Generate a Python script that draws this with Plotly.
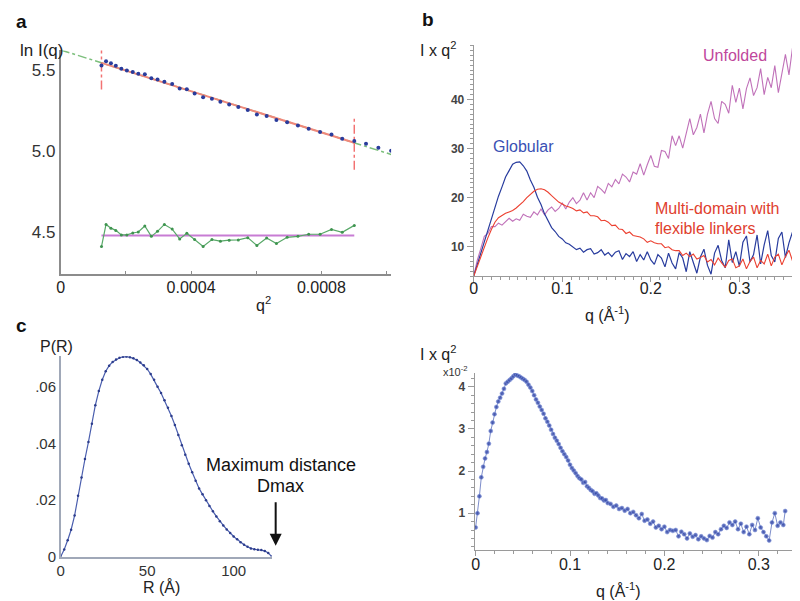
import plotly.graph_objects as go

W, H = 800, 601
FONT = "Liberation Sans, Arial, sans-serif"

# ---------------- a: Guinier plot ----------------
guinier_q2 = [0.000125, 0.000139, 0.000154, 0.000169, 0.000186, 0.000203, 0.000221,
              0.000238, 0.000258, 0.000278, 0.000297, 0.000318, 0.000342, 0.000365,
              0.000387, 0.000411, 0.000437, 0.000464, 0.000490, 0.000517, 0.000545,
              0.000574, 0.000602, 0.000632, 0.000662, 0.000695, 0.000728, 0.000761,
              0.000796, 0.000831, 0.000864, 0.000901, 0.000937, 0.000975, 0.001014]
guinier_ln_i = [5.531, 5.557, 5.545, 5.529, 5.510, 5.500, 5.490, 5.480, 5.476, 5.451,
                5.443, 5.429, 5.416, 5.388, 5.384, 5.357, 5.333, 5.324, 5.306, 5.288,
                5.273, 5.255, 5.227, 5.218, 5.192, 5.178, 5.159, 5.139, 5.118, 5.102,
                5.076, 5.063, 5.045, 5.020, 5.002]
# residual-like trace, same q2 points up to the fit limit
residual_ln_i = [4.408, 4.545, 4.522, 4.508, 4.480, 4.480, 4.492, 4.498, 4.535, 4.471,
                 4.502, 4.545, 4.516, 4.455, 4.490, 4.451, 4.408, 4.451, 4.441, 4.447,
                 4.449, 4.463, 4.414, 4.461, 4.427, 4.465, 4.471, 4.484, 4.484, 4.514,
                 4.496, 4.539]
residual_mean = 4.476
fit_q2 = [0.000125, 0.000901]
fit_ln_i = [5.547, 5.051]
extrap_q2 = [0.0, 0.001014]
extrap_ln_i = [5.627, 4.979]
cutoff_low_span = [5.382, 5.633]
cutoff_high_span = [4.884, 5.214]

# ---------------- b: Kratky plots ----------------
kratky_q_milli = [0, 4, 8, 12, 16, 20, 24, 28, 32, 36, 40, 44, 48, 52, 56, 60, 64, 68,
                  72, 76, 80, 84, 88, 92, 96, 100, 104, 108, 112, 116, 120, 124, 128,
                  132, 136, 140, 144, 148, 152, 156, 160, 164, 168, 172, 176, 180, 184,
                  188, 192, 196, 200, 204, 208, 212, 216, 220, 224, 228, 232, 236, 240,
                  244, 248, 252, 256, 260, 264, 268, 272, 276, 280, 284, 288, 292, 296,
                  300, 304, 308, 312, 316, 320, 324, 328, 332, 336, 340, 344, 348, 352,
                  356, 360, 364]
globular = [4.0, 6.3, 8.5, 11.1, 13.3, 15.9, 17.9, 20.3, 22.2, 24.2,
            25.5, 26.8, 27.2, 27.3, 26.5, 25.4, 23.6, 22.1, 20.1, 18.6,
            16.7, 15.4, 13.9, 13.1, 12.1, 11.6, 10.8, 10.5, 10.0, 9.4,
            9.7, 8.9, 9.4, 9.6, 8.5, 8.8, 9.4, 8.3, 8.8, 8.0,
            8.9, 9.2, 7.4, 8.6, 8.0, 9.0, 7.0, 8.4, 7.3, 9.0,
            7.3, 6.4, 8.4, 7.7, 5.9, 8.7, 6.7, 5.5, 8.8, 7.7,
            4.9, 9.0, 6.8, 4.6, 7.9, 9.5, 6.2, 4.4, 8.7, 10.3,
            7.2, 5.7, 11.4, 6.8, 9.0, 6.0, 10.9, 12.2, 6.9, 8.4,
            12.4, 6.5, 10.4, 13.3, 8.2, 6.9, 11.7, 13.0, 7.8, 10.8,
            13.0, 8.8]
multidomain = [4.0, 6.0, 8.1, 9.9, 11.8, 13.5, 15.0, 15.9, 16.4, 16.8,
               17.1, 17.4, 17.9, 18.5, 19.2, 20.0, 20.7, 21.3, 21.7, 21.8,
               21.6, 21.1, 20.4, 19.8, 19.1, 18.7, 18.3, 18.1, 17.8, 17.3,
               17.5, 16.9, 17.1, 16.3, 16.3, 16.1, 15.3, 15.4, 15.0, 14.3,
               14.4, 13.6, 13.5, 12.7, 13.0, 12.3, 12.1, 12.0, 11.6, 10.9,
               11.2, 10.8, 10.6, 10.6, 9.8, 10.0, 9.4, 9.2, 9.2, 8.2,
               8.7, 8.0, 8.5, 7.5, 7.8, 8.2, 6.9, 7.4, 6.3, 7.7,
               6.7, 5.8, 7.2, 7.5, 5.7, 6.1, 7.5, 5.5, 7.0, 7.9,
               5.7, 7.2, 6.5, 8.5, 6.1, 7.9, 8.5, 6.3, 8.0, 9.3,
               7.1, 7.6]
unfolded = [4.0, 7.2, 9.6, 12.1, 12.7, 14.1, 14.1, 14.8, 14.4, 15.2,
            15.8, 15.2, 15.7, 15.4, 16.6, 16.2, 16.0, 17.1, 16.5, 17.7,
            16.5, 17.5, 18.1, 17.2, 17.8, 18.9, 17.7, 19.1, 20.0, 18.8,
            19.5, 21.0, 19.5, 21.0, 20.0, 22.3, 21.7, 20.9, 22.9, 22.2,
            23.7, 22.8, 24.8, 24.2, 23.2, 25.2, 24.8, 26.9, 24.6, 26.7,
            28.6, 26.4, 26.2, 29.6, 29.4, 28.0, 32.6, 30.6, 32.6, 30.1,
            33.4, 36.1, 32.8, 34.3, 37.0, 33.2, 37.0, 39.6, 36.1, 35.1,
            39.6, 39.0, 37.2, 42.9, 39.4, 42.3, 38.1, 42.2, 44.4, 40.8,
            42.4, 46.3, 41.0, 44.5, 42.4, 46.9, 41.4, 45.7, 49.2, 45.0,
            50.6, 46.0]

# ---------------- c: pair distance distribution ----------------
r_angstrom = [0, 2, 4, 6, 8, 10, 12, 14, 16, 18, 20, 22, 24, 26, 28, 30, 32, 34, 36,
              38, 40, 42, 44, 46, 48, 50, 52, 54, 56, 58, 60, 62, 64, 66, 68, 70, 72,
              74, 76, 78, 80, 82, 84, 86, 88, 90, 92, 94, 96, 98, 100, 102, 104, 106,
              108, 110, 112, 114, 116, 118, 120, 122]
p_r = [0.0000, 0.0025, 0.0058, 0.0095, 0.0145, 0.0215, 0.0280, 0.0345, 0.0405, 0.0470,
       0.0535, 0.0585, 0.0625, 0.0655, 0.0675, 0.0688, 0.0697, 0.0703, 0.0706, 0.0707,
       0.0705, 0.0701, 0.0695, 0.0686, 0.0676, 0.0663, 0.0645, 0.0625, 0.0600, 0.0578,
       0.0553, 0.0526, 0.0497, 0.0465, 0.0430, 0.0394, 0.0360, 0.0328, 0.0298, 0.0268,
       0.0241, 0.0220, 0.0199, 0.0179, 0.0160, 0.0142, 0.0125, 0.0110, 0.0096, 0.0083,
       0.0071, 0.0061, 0.0051, 0.0042, 0.0035, 0.0029, 0.0026, 0.0024, 0.0023, 0.0020,
       0.0013, 0.0000]

# ---------------- d: Kratky plot of one sample (x10^-2) ----------------
sample_q_milli = [0, 2, 4, 6, 8, 10, 12, 14, 16, 18, 20, 22, 24, 26, 28, 30, 32, 34,
                  36, 38, 40, 42, 44, 46, 48, 50, 52, 54, 56, 58, 60, 62, 64, 66, 68,
                  70, 72, 74, 76, 78, 80, 82, 84, 86, 88, 90, 92, 94, 96, 98, 100, 102,
                  104, 106, 108, 110, 112, 114, 116, 118, 120, 122, 124, 126, 128, 130,
                  132, 134, 136, 138, 140,
                  143, 146, 149, 152, 155, 158, 161, 164, 167, 170, 173, 176, 179, 182,
                  185, 188, 191, 194, 197, 200, 203, 206, 209, 212, 215, 218, 221, 224,
                  227, 230, 233, 236, 239, 242, 245, 248, 251, 254, 257, 260, 263, 266,
                  269, 272, 275, 278, 281, 284, 287, 290, 293, 296, 299, 302, 305, 308,
                  311, 314, 317, 320, 323, 326, 328]
sample_iq2 = [0.66, 1.00, 1.40, 1.85, 2.10, 2.30, 2.45, 2.65, 2.95, 3.15,
              3.35, 3.52, 3.65, 3.74, 3.84, 3.95, 4.08, 4.12, 4.16, 4.20,
              4.25, 4.29, 4.27, 4.25, 4.22, 4.19, 4.16, 4.12, 4.05, 3.98,
              3.90, 3.80, 3.70, 3.62, 3.53, 3.45, 3.36, 3.25, 3.17, 3.08,
              2.98, 2.88, 2.79, 2.72, 2.64, 2.55, 2.47, 2.40, 2.33, 2.25,
              2.15, 2.07, 2.01, 1.95, 1.88, 1.83, 1.80, 1.72, 1.74, 1.64,
              1.60, 1.55, 1.52, 1.46, 1.47, 1.42, 1.36, 1.35, 1.30, 1.31,
              1.24,
              1.22, 1.15, 1.18, 1.10, 1.12, 1.06, 1.10, 1.00, 1.03, 0.95,
              0.88, 0.98, 0.82, 0.85, 0.75, 0.80, 0.66, 0.70, 0.62, 0.68,
              0.55, 0.60, 0.58, 0.60, 0.45, 0.56, 0.50, 0.40, 0.52, 0.44,
              0.48, 0.38, 0.45, 0.40, 0.36, 0.46, 0.42, 0.55, 0.50, 0.62,
              0.70, 0.65, 0.78, 0.72, 0.80, 0.62, 0.75, 0.55, 0.68, 0.50,
              0.72, 0.60, 0.88, 0.66, 0.55, 0.45, 0.35, 0.78, 1.00, 0.70,
              0.78, 0.72, 1.05]

kratky_q = [v / 1000 for v in kratky_q_milli]
sample_q = [v / 1000 for v in sample_q_milli]


def dom_x(x0, x1):
    return [x0 / W, x1 / W]


def dom_y(top, bottom):
    return [1 - bottom / H, 1 - top / H]


def ann(text, x, y, size=16, color="#222", bold=False, xanchor="center"):
    return dict(text=text, x=x / W, y=1 - y / H, xref="paper", yref="paper",
                xanchor=xanchor, yanchor="middle", showarrow=False,
                font=dict(family=FONT, size=size, color=color,
                          weight="bold" if bold else "normal"))


fig = go.Figure()

# panel a
fig.add_trace(go.Scatter(x=extrap_q2, y=extrap_ln_i, mode="lines",
                         line=dict(color="#7cbf7c", width=1.5, dash="dashdot")))
for q, span in [(fit_q2[0], cutoff_low_span), (fit_q2[1], cutoff_high_span)]:
    fig.add_trace(go.Scatter(x=[q, q], y=span, mode="lines",
                             line=dict(color="#f27272", width=1.5, dash="dashdot")))
fig.add_trace(go.Scatter(x=fit_q2, y=fit_ln_i, mode="lines",
                         line=dict(color="#f0887a", width=2)))
fig.add_trace(go.Scatter(x=guinier_q2, y=guinier_ln_i, mode="markers",
                         marker=dict(color="#2a3c9c", size=4)))
fig.add_trace(go.Scatter(x=fit_q2, y=[residual_mean, residual_mean], mode="lines",
                         line=dict(color="#c87cd4", width=2)))
fig.add_trace(go.Scatter(x=guinier_q2[:len(residual_ln_i)], y=residual_ln_i,
                         mode="lines+markers", line=dict(color="#58a868", width=1.2),
                         marker=dict(color="#3f9450", size=3)))

# panel b
fig.add_trace(go.Scatter(x=kratky_q, y=unfolded, mode="lines", xaxis="x2", yaxis="y2",
                         line=dict(color="rgba(176,78,168,0.8)", width=1.1)))
fig.add_trace(go.Scatter(x=kratky_q, y=globular, mode="lines", xaxis="x2", yaxis="y2",
                         line=dict(color="#283c9e", width=1.2)))
fig.add_trace(go.Scatter(x=kratky_q, y=multidomain, mode="lines", xaxis="x2", yaxis="y2",
                         line=dict(color="#ec4030", width=1.1)))

# panel c
fig.add_trace(go.Scatter(x=r_angstrom, y=p_r, mode="lines+markers", xaxis="x3", yaxis="y3",
                         line=dict(color="#4a5eae", width=1.2),
                         marker=dict(color="#2c3c8c", size=2.5)))

# panel d
fig.add_trace(go.Scatter(x=sample_q, y=sample_iq2, mode="lines+markers", xaxis="x4", yaxis="y4",
                         line=dict(color="rgba(70,92,180,0.7)", width=1),
                         marker=dict(color="rgba(52,72,168,0.8)", size=4,
                                     line=dict(color="rgba(130,150,220,0.6)", width=1))))

base = dict(showgrid=False, zeroline=False, showline=True, fixedrange=True,
            tickfont=dict(family=FONT, size=16, color="#222"))

fig.update_layout(
    width=W, height=H, margin=dict(l=0, r=0, t=0, b=0),
    paper_bgcolor="white", plot_bgcolor="white", showlegend=False,
    font=dict(family=FONT),
    xaxis=dict(base, domain=dom_x(49, 381), anchor="y", range=[0, 0.001014],
               linecolor="#8c8c8c", linewidth=1.5, ticks="inside", ticklen=4,
               tickcolor="#8c8c8c", ticklabelstandoff=-2,
               tickvals=[0, 0.0004, 0.0008], ticktext=["0", "0.0004", "0.0008"],
               minor=dict(ticks="inside", ticklen=4, tickcolor="#8c8c8c",
                          tickvals=[0.0002, 0.0006, 0.001])),
    yaxis=dict(base, domain=dom_y(43, 270), anchor="x", range=[4.235, 5.624],
               linecolor="#8c8c8c", linewidth=2, ticks="",
               tickvals=[4.5, 5.0, 5.5], ticktext=["4.5", "5.0", "5.5"],
               tickfont=dict(family=FONT, size=17, color="#333")),
    xaxis2=dict(base, domain=dom_x(464, 788), anchor="y2", range=[0, 0.364],
                linecolor="#9a9a9a", ticks="outside", ticklen=5, tickcolor="#9a9a9a",
                tick0=0, dtick=0.1, ticklabelstandoff=-8,
                minor=dict(ticks="outside", dtick=0.01, ticklen=3, tickcolor="#9a9a9a")),
    yaxis2=dict(base, domain=dom_y(38, 272), anchor="x2", range=[3.96, 51],
                linecolor="#9a9a9a", ticks="outside", ticklen=6, tickcolor="#9a9a9a",
                tickvals=[10, 20, 30, 40],
                minor=dict(ticks="outside", dtick=1, ticklen=3, tickcolor="#9a9a9a"),
                tickfont=dict(family=FONT, size=12, color="#444", weight="bold")),
    xaxis3=dict(base, domain=dom_x(49, 261), anchor="y3", range=[0, 122],
                linecolor="#a0a8b8", linewidth=1.5, ticks="", tick0=0, dtick=50,
                tickfont=dict(family=FONT, size=15, color="#333")),
    yaxis3=dict(base, domain=dom_y(353, 556), anchor="x3", range=[0, 0.0708],
                linecolor="#a0a8b8", linewidth=1.5, ticks="",
                tickvals=[0, 0.02, 0.04, 0.06], ticktext=["0", ".02", ".04", ".06"],
                tickfont=dict(family=FONT, size=15, color="#333")),
    xaxis4=dict(base, domain=dom_x(465, 797), anchor="y4", range=[-0.001, 0.349],
                linecolor="#9a9a9a", ticks="outside", ticklen=5, tickcolor="#9a9a9a",
                tick0=0, dtick=0.1, ticklabelstandoff=-5,
                minor=dict(ticks="outside", dtick=0.02, ticklen=3, tickcolor="#9a9a9a")),
    yaxis4=dict(base, domain=dom_y(370, 549), anchor="x4", range=[0.133, 4.325],
                linecolor="#9a9a9a", ticks="outside", ticklen=6, tickcolor="#9a9a9a",
                tickvals=[1, 2, 3, 4],
                minor=dict(ticks="outside", dtick=0.2, ticklen=3, tickcolor="#9a9a9a"),
                tickfont=dict(family=FONT, size=12, color="#444", weight="bold")),
)

annotations = [
    ann("a", 10, 14, size=19, color="#111", bold=True),
    ann("b", 418, 12, size=19, color="#111", bold=True),
    ann("c", 10, 322, size=19, color="#111", bold=True),
    ann("ln I(q)", 30, 43, size=17),
    ann("q<sup>2</sup>", 253, 300, size=16),
    ann("I x q<sup>2</sup>", 428, 42, size=16),
    ann("Globular", 514, 140, size=16, color="#3a50b4"),
    ann("Unfolded", 727, 48, size=16, color="#c0479c"),
    ann("Multi-domain with", 644, 203, size=16, color="#e0402e", xanchor="left"),
    ann("flexible linkers", 644, 223, size=16, color="#e0402e", xanchor="left"),
    ann("q (Å<sup>-1</sup>)", 598, 310, size=16),
    ann("P(R)", 45, 343, size=16),
    ann("R (Å)", 150, 587, size=16),
    ann("Maximum distance", 270, 463, size=18, color="#111"),
    ann("Dmax", 270, 484, size=18, color="#111"),
    ann("I x q<sup>2</sup>", 428, 350, size=16),
    ann("x10<sup>-2</sup>", 446, 368, size=11, color="#333"),
    ann("q (Å<sup>-1</sup>)", 610, 590, size=16),
    dict(x=265 / W, y=1 - 545 / H, xref="paper", yref="paper", text="",
         showarrow=True, ax=0, ay=-45, arrowhead=2, arrowsize=1.2, arrowwidth=2,
         arrowcolor="#111"),
]
fig.update_layout(annotations=annotations)

fig.write_html("out.html")
